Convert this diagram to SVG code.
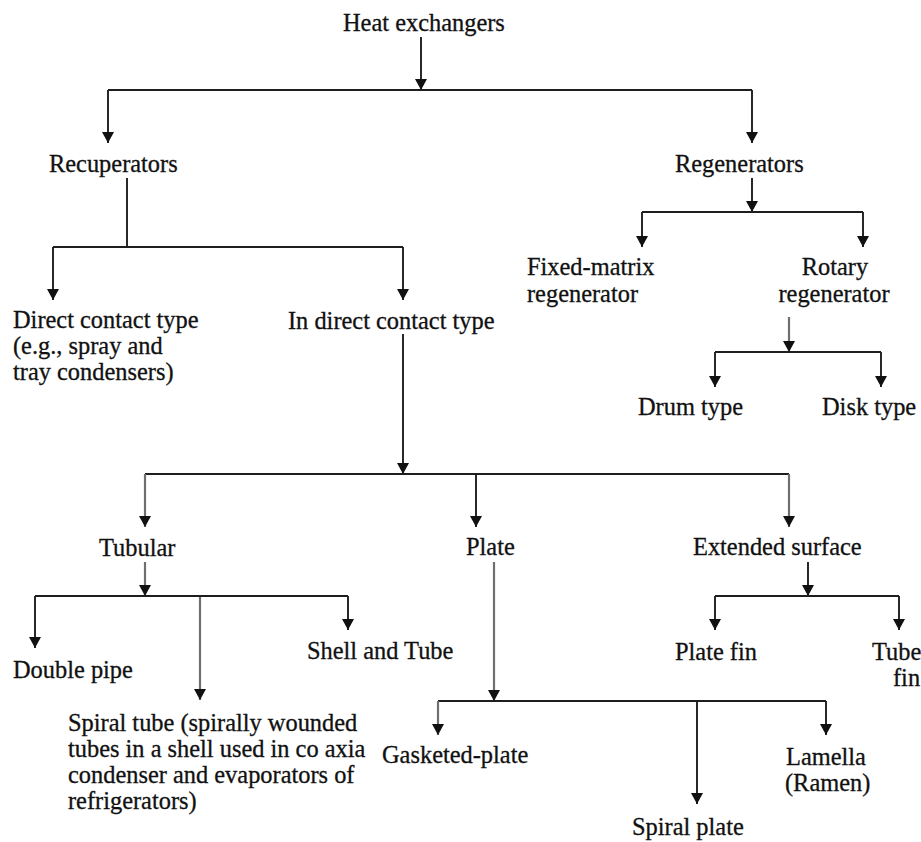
<svg xmlns="http://www.w3.org/2000/svg" width="921" height="842" viewBox="0 0 921 842">
<style>
  text { font-family: "Liberation Serif", "Times New Roman", serif; font-size: 24.4px; fill: #111; stroke: #111; stroke-width: 0.3px; }
  .ln { stroke: #1e1e1e; stroke-width: 1.9; fill: none; }
  .gr { stroke: #6f6f6f; stroke-width: 2.2; fill: none; }
  .ar { marker-end: url(#ah); }
</style>
<defs>
  <marker id="ah" markerUnits="userSpaceOnUse" markerWidth="11" markerHeight="12" viewBox="0 0 11 12" refX="11" refY="6" orient="auto">
    <path d="M0,0 L11,6 L0,12 z" fill="#111"/>
  </marker>
</defs>
<rect width="921" height="842" fill="#ffffff"/>

<g id="connectors">
  <!-- Heat exchangers -->
  <path class="ln ar" d="M421,37 V90"/>
  <path class="ln" d="M108,90 H752"/>
  <path class="ln ar" d="M108,90 V143"/>
  <path class="ln ar" d="M752,90 V143"/>
  <!-- Recuperators -->
  <path class="ln" d="M127,178 V247"/>
  <path class="ln" d="M53,247 H403"/>
  <path class="ln ar" d="M53,247 V300"/>
  <path class="ln ar" d="M403,247 V300"/>
  <!-- Regenerators -->
  <path class="ln ar" d="M752,178 V212"/>
  <path class="ln" d="M642,212 H863"/>
  <path class="ln ar" d="M642,212 V247"/>
  <path class="ln ar" d="M863,212 V247"/>
  <!-- Rotary regenerator -->
  <path class="gr ar" d="M789,317 V352"/>
  <path class="ln" d="M715,352 H881"/>
  <path class="ln ar" d="M715,352 V387"/>
  <path class="ln ar" d="M881,352 V387"/>
  <!-- In direct contact type -->
  <path class="ln ar" d="M403,334 V474"/>
  <path class="ln" d="M145,474 H789"/>
  <path class="gr ar" d="M145,474 V527"/>
  <path class="ln ar" d="M476,474 V527"/>
  <path class="gr ar" d="M789,474 V527"/>
  <!-- Tubular -->
  <path class="gr ar" d="M145,562 V596"/>
  <path class="ln" d="M35,596 H348"/>
  <path class="ln ar" d="M35,596 V648"/>
  <path class="gr ar" d="M200,597 V700"/>
  <path class="ln ar" d="M348,596 V630"/>
  <!-- Plate -->
  <path class="gr ar" d="M494,562 V701"/>
  <path class="ln" d="M438,701 H826"/>
  <path class="gr ar" d="M438,701 V735"/>
  <path class="ln ar" d="M697,701 V804"/>
  <path class="ln ar" d="M826,701 V735"/>
  <!-- Extended surface -->
  <path class="ln ar" d="M808,562 V596"/>
  <path class="ln" d="M715,596 H899"/>
  <path class="ln ar" d="M715,596 V630"/>
  <path class="ln ar" d="M899,596 V630"/>
</g>

<g id="heat-exchangers"><text x="343" y="31">Heat exchangers</text></g>
<g id="recuperators"><text x="49" y="172">Recuperators</text></g>
<g id="regenerators"><text x="675" y="172">Regenerators</text></g>
<g id="fixed-matrix"><text x="527" y="275">Fixed-matrix</text><text x="527" y="302">regenerator</text></g>
<g id="rotary"><text x="835" y="275" text-anchor="middle">Rotary</text><text x="834" y="302" text-anchor="middle">regenerator</text></g>
<g id="drum"><text x="638" y="415">Drum type</text></g>
<g id="disk"><text x="822" y="415">Disk type</text></g>
<g id="direct-contact"><text x="13" y="328">Direct contact type</text><text x="13" y="354">(e.g., spray and</text><text x="13" y="380">tray condensers)</text></g>
<g id="indirect-contact"><text x="288" y="329">In direct contact type</text></g>
<g id="tubular"><text x="99" y="556">Tubular</text></g>
<g id="plate"><text x="466" y="555">Plate</text></g>
<g id="extended-surface"><text x="693" y="555">Extended surface</text></g>
<g id="double-pipe"><text x="13" y="678">Double pipe</text></g>
<g id="shell-tube"><text x="307" y="659">Shell and Tube</text></g>
<g id="spiral-tube"><text x="68" y="731">Spiral tube (spirally wounded</text><text x="68" y="757">tubes in a shell used in co axia</text><text x="68" y="783">condenser and evaporators of</text><text x="68" y="809">refrigerators)</text></g>
<g id="plate-fin"><text x="675" y="660">Plate fin</text></g>
<g id="tube-fin"><text x="872" y="660">Tube</text><text x="893" y="686">fin</text></g>
<g id="gasketed-plate"><text x="382" y="763">Gasketed-plate</text></g>
<g id="spiral-plate"><text x="632" y="835">Spiral plate</text></g>
<g id="lamella"><text x="786" y="765">Lamella</text><text x="785" y="791">(Ramen)</text></g>
</svg>
